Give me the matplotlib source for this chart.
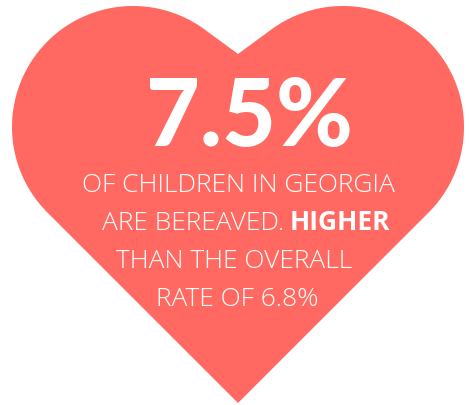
import numpy as np
import matplotlib
matplotlib.use("Agg")
import matplotlib.pyplot as plt

# ---- content ----
headline_value = "7.5%"
body_lines = ["OF CHILDREN IN GEORGIA", "ARE BEREAVED.", "THAN THE OVERALL", "RATE OF 6.8%"]
emphasis_word = "HIGHER"
heart_color = "#FF6961"

W, H = 471, 406
fig = plt.figure(figsize=(W / 100, H / 100), dpi=100)
ax = fig.add_axes([0, 0, 1, 1])
ax.set_xlim(0, W)
ax.set_ylim(H, 0)
ax.axis("off")

# ---- heart geometry (image coords, y down) ----
cx, cy, r = 133.0, 128.0, 121.0
mid = 238.0
dip = np.array([mid, 55.0])
tip = np.array([mid, 404.0])


def tangent_angle(E, sign):
    v = E - np.array([cx, cy])
    d = np.hypot(*v)
    th = np.arctan2(v[1], v[0])
    a = np.arccos(r / d)
    return th + sign * a


t1 = tangent_angle(dip, -1)
t2 = tangent_angle(tip, +1)
if t2 > t1:
    t2 -= 2 * np.pi
thetas = np.linspace(t1, t2, 300)
lx = cx + r * np.cos(thetas)
ly = cy + r * np.sin(thetas)
left_x = np.concatenate([[dip[0]], lx, [tip[0]]])
left_y = np.concatenate([[dip[1]], ly, [tip[1]]])
right_x = 2 * mid - left_x[::-1]
right_y = left_y[::-1]
hx = np.concatenate([left_x, right_x])
hy = np.concatenate([left_y, right_y])
ax.fill(hx, hy, color=heart_color, lw=0)

# ---- text ----
big_font = "Lato"
light_font = "Open Sans"
ax.text(249.5, 146, headline_value, fontsize=67, fontweight="black", family=big_font,
        color="white", ha="center", va="baseline")

fs = 19
lw_ = 300
ax.text(238, 192, body_lines[0], fontsize=fs, fontweight=lw_, family=light_font,
        color="white", ha="center", va="baseline")
ax.text(284, 230, body_lines[1], fontsize=fs, fontweight=lw_, family=light_font,
        color="white", ha="right", va="baseline")
ax.text(290, 230, emphasis_word, fontsize=fs, fontweight="bold", family=light_font,
        color="white", ha="left", va="baseline")
ax.text(234.5, 268, body_lines[2], fontsize=fs, fontweight=lw_, family=light_font,
        color="white", ha="center", va="baseline")
ax.text(237.5, 306, body_lines[3], fontsize=fs, fontweight=lw_, family=light_font,
        color="white", ha="center", va="baseline")

fig.savefig("out.png", dpi=100, facecolor="white")
